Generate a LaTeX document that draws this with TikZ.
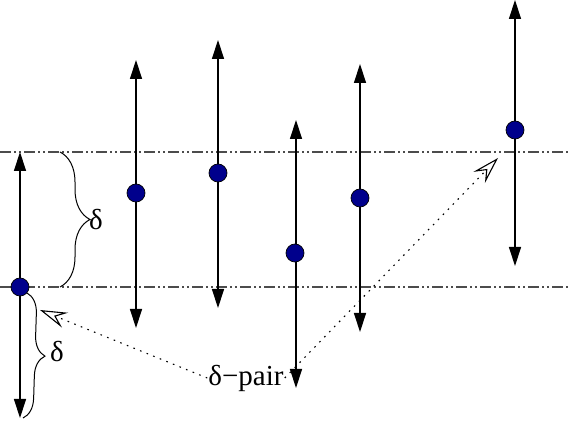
\documentclass[tikz,border=0pt]{standalone}
\usepackage{fontspec}
\setmainfont{Liberation Serif}
\usetikzlibrary{arrows.meta,decorations.pathreplacing}
\definecolor{dotblue}{RGB}{0,0,140}
\tikzset{
  vec/.style={line width=1.3pt,{Triangle[length=19pt,width=12pt]}-{Triangle[length=19pt,width=12pt]}},
  pt/.style={circle,draw=black,fill=dotblue,line width=0.7pt,minimum size=18pt,inner sep=0pt},
  level/.style={line width=1.6pt,black!70,dash pattern=on 11pt off 3pt on 2pt off 3pt on 2pt off 3pt},
  pointer/.style={line width=1.1pt,dash pattern=on 1.6pt off 5.5pt,-{Stealth[open,length=27pt,width=16pt,inset=10pt]}},
  brc/.style={decorate,line width=1pt,decoration={brace,amplitude=#1}},
  lbl/.style={font=\fontsize{29}{31}\selectfont,inner sep=1pt}
}
\begin{document}
\begin{tikzpicture}[x=1pt,y=-1pt]
\useasboundingbox (0,0) rectangle (576,435);
% level lines
\coordinate (l1a) at (0,152); \coordinate (l1b) at (570,152);
\coordinate (l2a) at (0,287); \coordinate (l2b) at (570,287);
\draw[level] (l1a) -- (l1b);
\draw[level] (l2a) -- (l2b);
% vertical arrows
\coordinate (t1) at (20,152); \coordinate (b1) at (20,418);
\coordinate (t2) at (136,60);  \coordinate (b2) at (136,328);
\coordinate (t3) at (218,40);  \coordinate (b3) at (218,308);
\coordinate (t4) at (296,120); \coordinate (b4) at (296,388);
\coordinate (t5) at (360,64);  \coordinate (b5) at (360,332);
\coordinate (t6) at (515,0);   \coordinate (b6) at (515,266);
\foreach \i in {1,...,6} \draw[vec] (t\i) -- (b\i);
% dots
\node[pt] (p1) at (20,287) {};
\node[pt] (p2) at (136,193) {};
\node[pt] (p3) at (218,173) {};
\node[pt] (p4) at (295,253) {};
\node[pt] (p5) at (360,198) {};
\node[pt] (p6) at (515,130) {};
% braces
\coordinate (br1a) at (60,152); \coordinate (br1b) at (60,287);
\draw[brc=30pt] (br1a) -- (br1b);
\node[lbl] (d1) at (96,220) {δ};
\coordinate (br2a) at (27,293); \coordinate (br2b) at (23,418);
\draw[brc=20pt] (br2a) -- (br2b);
\node[lbl] (d2) at (57,352) {δ};
% delta pair
\node[lbl] (dp) at (246,378) {δ−pair};
\coordinate (e1) at (40,310);
\coordinate (e2) at (498,158);
\draw[pointer] (dp.west) -- (e1);
\draw[pointer] (dp.east) -- (e2);
\end{tikzpicture}
\end{document}
